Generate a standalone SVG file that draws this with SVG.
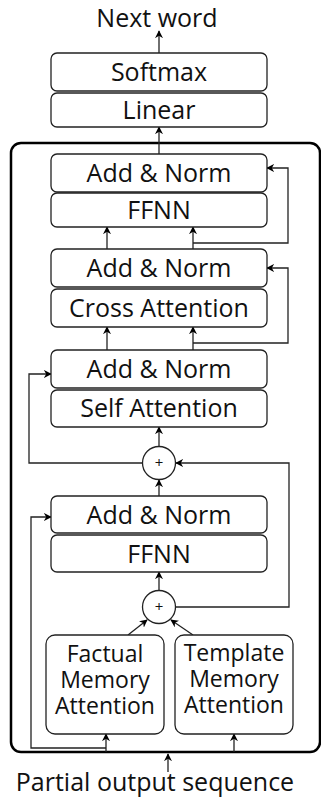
<svg xmlns="http://www.w3.org/2000/svg" width="321" height="800" viewBox="0 0 321 800">
  <defs>
    <marker id="arrow" viewBox="0 0 10 10" refX="9" refY="5" markerWidth="8" markerHeight="8" markerUnits="userSpaceOnUse" orient="auto">
      <path d="M0,0 L10,5 L0,10 L3,5 z" fill="#000"/>
    </marker>
    <style>
      .box { fill: #fff; stroke: #222; stroke-width: 1.3; }
      .outer { fill: none; stroke: #000; stroke-width: 2.5; }
      .lbl { font-family: "Open Sans", "Noto Sans", sans-serif; font-size: 25px; fill: #111; text-anchor: middle; }
      .mem { font-size: 23px; }
      .conn { fill: none; stroke: #222; stroke-width: 1.3; }
      .arr { marker-end: url(#arrow); }
      .sum { fill: #fff; stroke: #222; stroke-width: 1.3; }
      .plus { font-family: "Open Sans", "Noto Sans", sans-serif; font-size: 15px; fill: #111; text-anchor: middle; }
    </style>
  </defs>

  <!-- decoder block frame -->
  <rect class="outer" x="11" y="143" width="309" height="609" rx="10"/>

  <text class="lbl" x="157" y="27">Next word</text>
  <text class="lbl" x="155" y="791">Partial output sequence</text>

  <g id="connectors">
    <line class="conn arr" x1="159" y1="53" x2="159" y2="31"/>
    <line class="conn arr" x1="159" y1="154" x2="159" y2="127"/>
    <!-- into top FFNN -->
    <line class="conn arr" x1="107" y1="249" x2="107" y2="227"/>
    <line class="conn arr" x1="193" y1="249" x2="193" y2="227"/>
    <polyline class="conn arr" points="193,243 288,243 288,168 267,168"/>
    <!-- into cross attention -->
    <line class="conn arr" x1="107" y1="350" x2="107" y2="327"/>
    <line class="conn arr" x1="193" y1="350" x2="193" y2="327"/>
    <polyline class="conn arr" points="193,343 288,343 288,268 267,268"/>
    <!-- self attention residual -->
    <line class="conn arr" x1="159" y1="446" x2="159" y2="427"/>
    <polyline class="conn arr" points="142,463 29,463 29,374 51,374"/>
    <polyline class="conn arr" points="176,607 289,607 289,463 176,463"/>
    <line class="conn arr" x1="159" y1="496" x2="159" y2="480"/>
    <!-- memory fusion -->
    <line class="conn arr" x1="159" y1="590" x2="159" y2="572"/>
    <line class="conn arr" x1="128" y1="635" x2="147" y2="620"/>
    <line class="conn arr" x1="193" y1="635" x2="171" y2="620"/>
    <polyline class="conn arr" points="106,748 31,748 31,517 51,517"/>
    <line class="conn arr" x1="106" y1="752" x2="106" y2="734"/>
    <line class="conn arr" x1="234" y1="752" x2="234" y2="734"/>
    <line class="conn arr" x1="168" y1="772" x2="168" y2="754"/>
  </g>

  <g id="softmax">
    <rect class="box" x="51" y="53" width="216" height="38" rx="6"/>
    <text class="lbl" x="159" y="81">Softmax</text>
  </g>
  <g id="linear">
    <rect class="box" x="51" y="93" width="216" height="34" rx="6"/>
    <text class="lbl" x="159" y="119">Linear</text>
  </g>
  <g id="addnorm-1">
    <rect class="box" x="51" y="154" width="216" height="38" rx="6"/>
    <text class="lbl" x="159" y="182">Add &amp; Norm</text>
  </g>
  <g id="ffnn-1">
    <rect class="box" x="51" y="193" width="216" height="34" rx="6"/>
    <text class="lbl" x="159" y="219">FFNN</text>
  </g>
  <g id="addnorm-2">
    <rect class="box" x="51" y="249" width="216" height="38" rx="6"/>
    <text class="lbl" x="159" y="277">Add &amp; Norm</text>
  </g>
  <g id="cross-attention">
    <rect class="box" x="51" y="289" width="216" height="38" rx="6"/>
    <text class="lbl" x="159" y="317">Cross Attention</text>
  </g>
  <g id="addnorm-3">
    <rect class="box" x="51" y="350" width="216" height="38" rx="6"/>
    <text class="lbl" x="159" y="378">Add &amp; Norm</text>
  </g>
  <g id="self-attention">
    <rect class="box" x="51" y="390" width="216" height="37" rx="6"/>
    <text class="lbl" x="159" y="417">Self Attention</text>
  </g>
  <g id="sum-1">
    <circle class="sum" cx="159" cy="463" r="16.5"/>
    <text class="plus" x="159" y="468">+</text>
  </g>
  <g id="addnorm-4">
    <rect class="box" x="51" y="496" width="216" height="37" rx="6"/>
    <text class="lbl" x="159" y="524">Add &amp; Norm</text>
  </g>
  <g id="ffnn-2">
    <rect class="box" x="51" y="535" width="216" height="37" rx="6"/>
    <text class="lbl" x="159" y="563">FFNN</text>
  </g>
  <g id="sum-2">
    <circle class="sum" cx="159" cy="607" r="16.5"/>
    <text class="plus" x="159" y="612">+</text>
  </g>
  <g id="factual-memory">
    <rect class="box" x="46" y="635" width="118" height="99" rx="9"/>
    <text class="lbl mem" x="105" y="662">Factual<tspan x="105" dy="26">Memory</tspan><tspan x="105" dy="26">Attention</tspan></text>
  </g>
  <g id="template-memory">
    <rect class="box" x="175" y="635" width="118" height="99" rx="9"/>
    <text class="lbl mem" x="234" y="661">Template<tspan x="234" dy="26">Memory</tspan><tspan x="234" dy="26">Attention</tspan></text>
  </g>
</svg>
